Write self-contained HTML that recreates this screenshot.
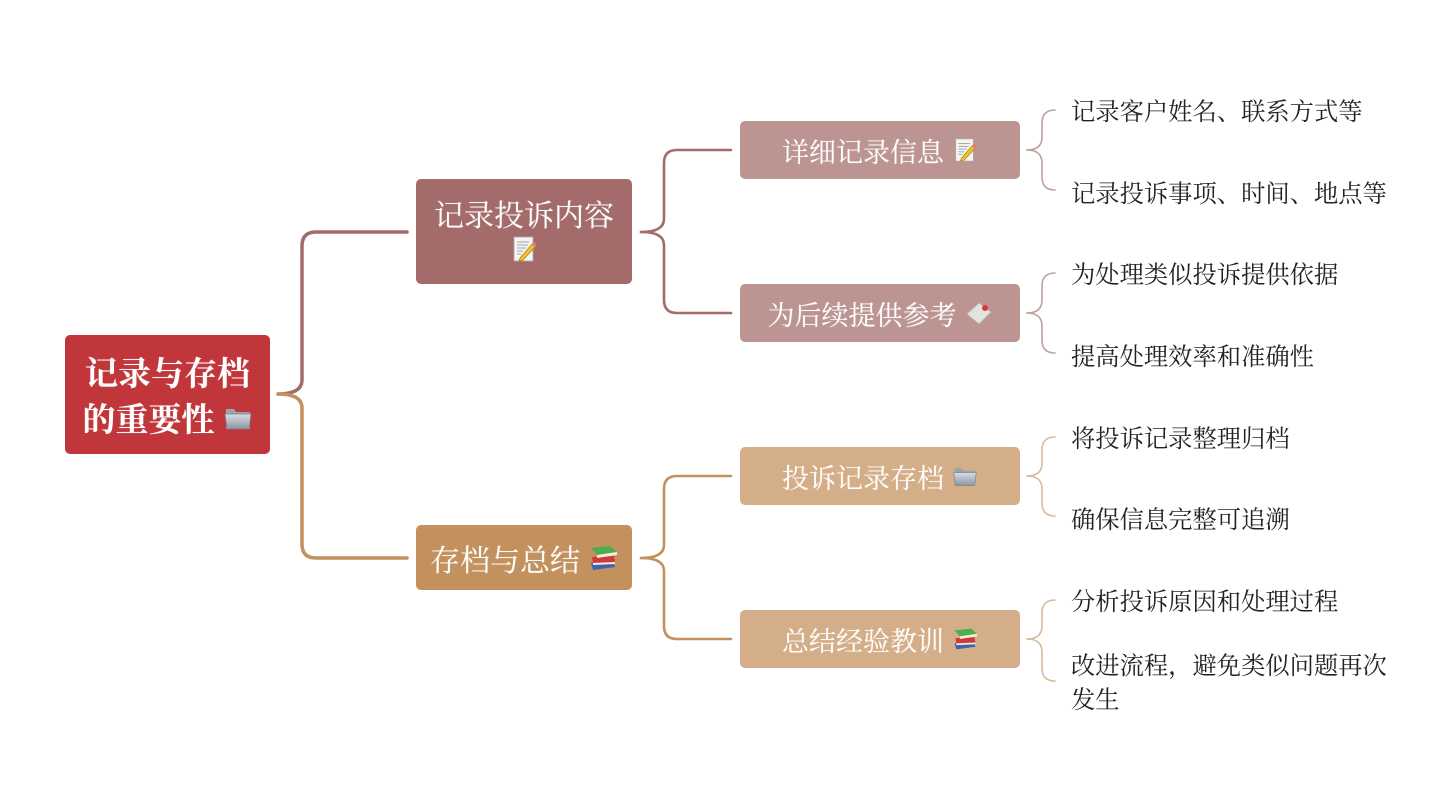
<!DOCTYPE html>
<html><head><meta charset="utf-8">
<style>
html,body{margin:0;padding:0;background:#fff;}
body{width:1455px;height:800px;position:relative;overflow:hidden;font-family:"Liberation Serif","Noto Serif CJK SC",serif;}
.box{position:absolute;border-radius:5px;color:#fff;display:flex;flex-direction:column;align-items:center;justify-content:center;text-shadow:0 0 1px rgba(255,255,255,0.4);}
.ln{display:flex;align-items:center;justify-content:center;white-space:nowrap;}
.ic{display:inline-block;margin-left:8px;vertical-align:middle;}
.leaf{position:absolute;left:1071px;font-size:24.3px;color:#222;white-space:nowrap;line-height:34px;}
</style></head>
<body>
<svg width="1455" height="800" style="position:absolute;left:0;top:0" xmlns="http://www.w3.org/2000/svg">
  <g fill="none" stroke-linecap="round">
    <path d="M278,394 Q302,394 302,380 L302,246 Q302,232 316,232 L407,232" stroke="#a36c6b" stroke-width="3.5"/>
    <path d="M278,394 Q302,394 302,408 L302,544 Q302,558 316,558 L407,558" stroke="#c3915d" stroke-width="3.5"/>
    <path d="M641,232 Q664,232 664,219 L664,163 Q664,150 677,150 L731,150" stroke="#a36c6b" stroke-width="2.6"/>
    <path d="M641,232 Q664,232 664,245 L664,300 Q664,313 677,313 L731,313" stroke="#a36c6b" stroke-width="2.6"/>
    <path d="M641,558 Q664,558 664,545 L664,489 Q664,476 677,476 L731,476" stroke="#c3915d" stroke-width="2.6"/>
    <path d="M641,558 Q664,558 664,571 L664,626 Q664,639 677,639 L731,639" stroke="#c3915d" stroke-width="2.6"/>
    <g stroke="#bda19d" stroke-width="1.6">
      <path d="M1027,150 Q1042,150 1042,137 L1042,123 Q1042,110 1055,110"/>
      <path d="M1027,150 Q1042,150 1042,163 L1042,177 Q1042,190 1055,190"/>
      <path d="M1027,313 Q1042,313 1042,300 L1042,286 Q1042,273 1055,273"/>
      <path d="M1027,313 Q1042,313 1042,326 L1042,340 Q1042,353 1055,353"/>
    </g>
    <g stroke="#d8bb9c" stroke-width="1.6">
      <path d="M1027,476 Q1042,476 1042,463 L1042,450 Q1042,437 1055,437"/>
      <path d="M1027,476 Q1042,476 1042,489 L1042,503 Q1042,516 1055,516"/>
      <path d="M1027,639 Q1042,639 1042,626 L1042,613 Q1042,600 1055,600"/>
      <path d="M1027,639 Q1042,639 1042,652 L1042,668 Q1042,681 1055,681"/>
    </g>
  </g>
</svg>

<div class="box" style="left:65px;top:335px;width:205px;height:119px;background:#c0363b;font-size:33px;font-weight:bold;">
  <div class="ln" style="height:46px;">记录与存档</div>
  <div class="ln" style="height:46px;">的重要性<svg class="ic" width="30" height="28" viewBox="0 0 30 28"><defs><linearGradient id="fg" x1="0" y1="0" x2="0" y2="1"><stop offset="0" stop-color="#d8dde3"/><stop offset="1" stop-color="#8d96a1"/></linearGradient></defs><path d="M3,5 L11,5 L13,8 L27,8 L27,25 L3,25 Z" fill="#9aa3ad"/><path d="M2,10 L28,10 L26,25 L4,25 Z" fill="url(#fg)" stroke="#7b838c" stroke-width="0.8"/></svg></div>
</div>

<div class="box" style="left:416px;top:179px;width:216px;height:105px;background:#a36c6b;font-size:30px;">
  <div class="ln" style="height:38px;margin-top:-4px;">记录投诉内容</div>
  <div class="ln" style="height:34px;"><svg width="26" height="28" viewBox="0 0 26 28"><rect x="3" y="2" width="19" height="24" fill="#f4f4f2" stroke="#aaa" stroke-width="0.8"/><g stroke="#8a8fa0" stroke-width="0.8"><line x1="6" y1="7" x2="18" y2="7"/><line x1="6" y1="10" x2="17" y2="10"/><line x1="6" y1="13" x2="15" y2="13"/><line x1="6" y1="16" x2="12" y2="16"/><line x1="6" y1="19" x2="10" y2="19"/></g><path d="M9,23 L21,9 L24,12 L12,25 L8,26 Z" fill="#f0c030" stroke="#b08010" stroke-width="0.7"/><path d="M21,9 L23,7 L26,10 L24,12 Z" fill="#e07a8a"/></svg></div>
</div>
<div class="box" style="left:416px;top:525px;width:216px;height:65px;background:#c3915d;font-size:30px;">
  <div class="ln">存档与总结<svg class="ic" width="30" height="28" viewBox="0 0 30 28"><path d="M3,19 L25,17 L27,23 L5,26 Z" fill="#3f62b0"/><path d="M4,13 L26,12 L27,18 L5,19 Z" fill="#d0383a"/><path d="M3,4 L22,2 L29,8 L9,11 Z" fill="#4eae4c"/><path d="M9,11 L29,8 L29,11 L9,14 Z" fill="#f2eee0"/><path d="M5,19 L27,18 L27,20 L5,21 Z" fill="#f2eee0"/></svg></div>
</div>

<div class="box" style="left:740px;top:121px;width:280px;height:58px;background:#bc9592;font-size:27px;">
  <div class="ln">详细记录信息<svg class="ic" width="26" height="26" viewBox="0 0 26 28"><rect x="3" y="2" width="19" height="24" fill="#f4f4f2" stroke="#aaa" stroke-width="0.8"/><g stroke="#8a8fa0" stroke-width="0.8"><line x1="6" y1="7" x2="18" y2="7"/><line x1="6" y1="10" x2="17" y2="10"/><line x1="6" y1="13" x2="15" y2="13"/><line x1="6" y1="16" x2="12" y2="16"/><line x1="6" y1="19" x2="10" y2="19"/></g><path d="M9,23 L21,9 L24,12 L12,25 L8,26 Z" fill="#f0c030" stroke="#b08010" stroke-width="0.7"/><path d="M21,9 L23,7 L26,10 L24,12 Z" fill="#e07a8a"/></svg></div>
</div>
<div class="box" style="left:740px;top:284px;width:280px;height:58px;background:#bc9592;font-size:27px;">
  <div class="ln">为后续提供参考<svg class="ic" width="28" height="26" viewBox="0 0 28 26"><path d="M2,14 L14,3 L26,12 L14,24 Z" fill="#e4e2de" stroke="#b8b4ae" stroke-width="0.8"/><circle cx="20" cy="8" r="3" fill="#d83a3a"/></svg></div>
</div>
<div class="box" style="left:740px;top:447px;width:280px;height:58px;background:#d4ae88;font-size:27px;">
  <div class="ln">投诉记录存档<svg class="ic" width="26" height="26" viewBox="0 0 30 28"><defs><linearGradient id="fg2" x1="0" y1="0" x2="0" y2="1"><stop offset="0" stop-color="#d8dde3"/><stop offset="1" stop-color="#8d96a1"/></linearGradient></defs><path d="M3,5 L11,5 L13,8 L27,8 L27,25 L3,25 Z" fill="#9aa3ad"/><path d="M2,10 L28,10 L26,25 L4,25 Z" fill="url(#fg2)" stroke="#7b838c" stroke-width="0.8"/></svg></div>
</div>
<div class="box" style="left:740px;top:610px;width:280px;height:58px;background:#d4ae88;font-size:27px;">
  <div class="ln">总结经验教训<svg class="ic" width="26" height="26" viewBox="0 0 30 28"><path d="M3,19 L25,17 L27,23 L5,26 Z" fill="#3f62b0"/><path d="M4,13 L26,12 L27,18 L5,19 Z" fill="#d0383a"/><path d="M3,4 L22,2 L29,8 L9,11 Z" fill="#4eae4c"/><path d="M9,11 L29,8 L29,11 L9,14 Z" fill="#f2eee0"/><path d="M5,19 L27,18 L27,20 L5,21 Z" fill="#f2eee0"/></svg></div>
</div>

<div class="leaf" style="top:96px;">记录客户姓名、联系方式等</div>
<div class="leaf" style="top:178px;">记录投诉事项、时间、地点等</div>
<div class="leaf" style="top:259px;">为处理类似投诉提供依据</div>
<div class="leaf" style="top:341px;">提高处理效率和准确性</div>
<div class="leaf" style="top:423px;">将投诉记录整理归档</div>
<div class="leaf" style="top:504px;">确保信息完整可追溯</div>
<div class="leaf" style="top:586px;">分析投诉原因和处理过程</div>
<div class="leaf" style="top:650px;">改进流程，避免类似问题再次<br>发生</div>
</body></html>
